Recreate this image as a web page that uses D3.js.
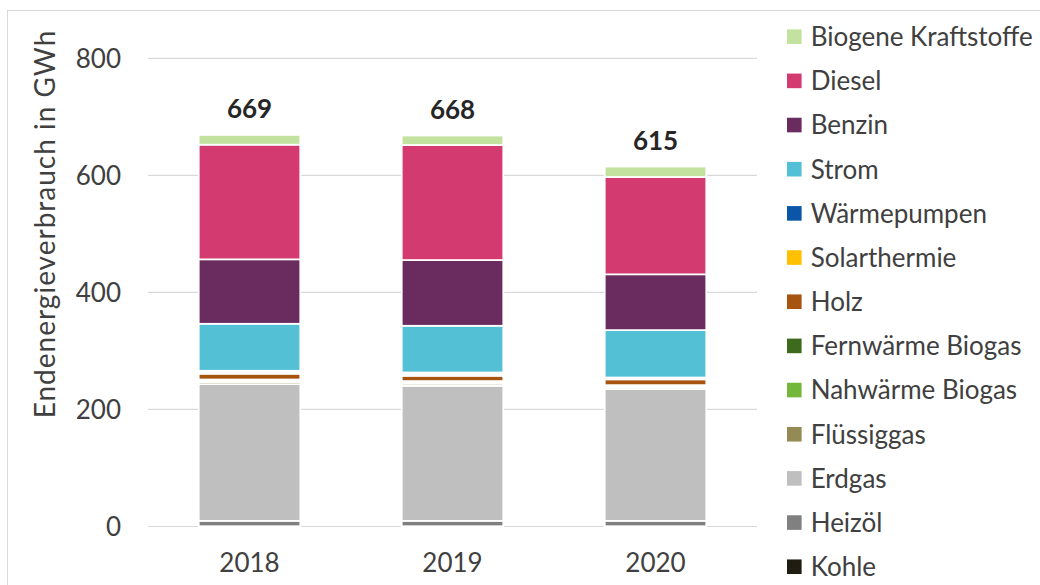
<!DOCTYPE html>
<html lang="de">
<head>
<meta charset="utf-8">
<script src="https://cdn.jsdelivr.net/npm/d3@7"></script>
<style>
  html, body { margin: 0; padding: 0; background: #fff; }
  svg { display: block; font-family: Lato, "Open Sans", sans-serif; }
</style>
</head>
<body>
<svg id="chart" width="1040" height="585"></svg>
<script>
// Endenergieverbrauch nach Energieträger (GWh), gestapelt von unten nach oben
const years = ["2018", "2019", "2020"];
const yTicks = [0, 200, 400, 600, 800];

const kohle        = [0.5, 0.5, 0.5];
const heizoel      = [9.2, 9.2, 9.2];
const erdgas       = [233.6, 230.7, 225.1];
const fluessiggas  = [3.5, 3.6, 3.0];
const nahwaerme    = [2.2, 2.2, 1.9];
const fernwaerme   = [2.2, 2.3, 1.9];
const holz         = [9.8, 9.0, 9.8];
const solarthermie = [2.5, 2.8, 1.5];
const waermepumpen = [2.6, 2.9, 1.7];
const strom        = [80.3, 79.8, 81.0];
const benzin       = [110.1, 112.3, 95.3];
const diesel       = [195.9, 196.6, 166.3];
const biogene      = [16.6, 16.1, 17.8];

const seriesNames = ["Kohle", "Heizöl", "Erdgas", "Flüssiggas", "Nahwärme Biogas",
  "Fernwärme Biogas", "Holz", "Solarthermie", "Wärmepumpen", "Strom", "Benzin",
  "Diesel", "Biogene Kraftstoffe"];
const seriesValues = [kohle, heizoel, erdgas, fluessiggas, nahwaerme, fernwaerme,
  holz, solarthermie, waermepumpen, strom, benzin, diesel, biogene];
const seriesColors = ["#1f1d12", "#808080", "#bfbfbf", "#948a54", "#74b73b",
  "#3e6a1e", "#a65410", "#ffc000", "#0a55a5", "#54c0d6", "#6a2c5f",
  "#d33a6f", "#c3e29f"];

// table: one row per year, one column per series
const table = years.map((yr, i) => {
  const row = { year: yr };
  seriesNames.forEach((s, k) => { row[s] = seriesValues[k][i]; });
  return row;
});
const totals = years.map((yr, i) => d3.sum(seriesValues, v => v[i]));

const svg = d3.select("#chart");
const textColor = "#404040";

// outer chart frame
svg.append("rect")
  .attr("x", 7.5).attr("y", 10.5)
  .attr("width", 1060).attr("height", 600)
  .attr("fill", "none").attr("stroke", "#d9d9d9").attr("stroke-width", 1);

const plotLeft = 148, plotRight = 757;
const x = d3.scaleBand().domain(years).range([plotLeft, plotRight])
  .paddingInner(0.5).paddingOuter(0.25);
const y = d3.scaleLinear().domain([0, 800]).range([526.5, 58.3]);

// gridlines
svg.append("g").selectAll("line").data(yTicks).join("line")
  .attr("x1", plotLeft).attr("x2", plotRight)
  .attr("y1", d => y(d)).attr("y2", d => y(d))
  .attr("stroke", "#d9d9d9").attr("stroke-width", 1.2);

// y axis labels
const yAxis = d3.axisLeft(y).tickValues(yTicks).tickSize(0).tickPadding(0);
const gy = svg.append("g").attr("transform", "translate(121,0)").call(yAxis);
gy.select(".domain").remove();
gy.selectAll("text")
  .attr("font-family", "Lato, 'Open Sans', sans-serif")
  .attr("font-size", 26).attr("fill", textColor).attr("dy", "0.36em");

// x axis labels
const xAxis = d3.axisBottom(x).tickSize(0).tickPadding(0);
const gx = svg.append("g").attr("transform", "translate(0,553)").call(xAxis);
gx.select(".domain").remove();
gx.selectAll("text")
  .attr("font-family", "Lato, 'Open Sans', sans-serif")
  .attr("font-size", 26).attr("fill", textColor).attr("dy", "0.72em");

// stacked bars
const stack = d3.stack().keys(seriesNames);
const layers = stack(table);
svg.append("g").selectAll("g").data(layers).join("g")
  .attr("fill", (d, i) => seriesColors[i])
  .selectAll("rect").data(d => d).join("rect")
  .attr("x", d => x(d.data.year))
  .attr("width", x.bandwidth())
  .attr("y", d => y(d[1]))
  .attr("height", d => y(d[0]) - y(d[1]))
  .attr("stroke", "#fff").attr("stroke-width", 1.7);

// totals above bars
svg.append("g").selectAll("text").data(years).join("text")
  .attr("x", d => x(d) + x.bandwidth() / 2)
  .attr("y", (d, i) => y(totals[i]) - 17)
  .attr("text-anchor", "middle")
  .attr("font-size", 26).attr("font-weight", "bold").attr("fill", "#262626")
  .text((d, i) => d3.format(".0f")(totals[i]));

// y axis title
svg.append("text")
  .attr("transform", "translate(55,224) rotate(-90)")
  .attr("text-anchor", "middle")
  .attr("font-size", 28).attr("letter-spacing", 1).attr("fill", textColor)
  .text("Endenergieverbrauch in GWh");

// legend, top entry is the top of the stack
const legendOrder = seriesNames.map((s, i) => i).reverse();
const legend = svg.append("g").selectAll("g").data(legendOrder).join("g")
  .attr("transform", (d, j) => `translate(787,${36.7 + j * 44.17})`);
legend.append("rect")
  .attr("x", 0).attr("y", -7.3).attr("width", 14.6).attr("height", 14.6)
  .attr("fill", d => seriesColors[d]);
legend.append("text")
  .attr("x", 23.7).attr("dy", "0.36em")
  .attr("font-size", 26).attr("fill", textColor)
  .text(d => seriesNames[d]);
</script>
</body>
</html>
